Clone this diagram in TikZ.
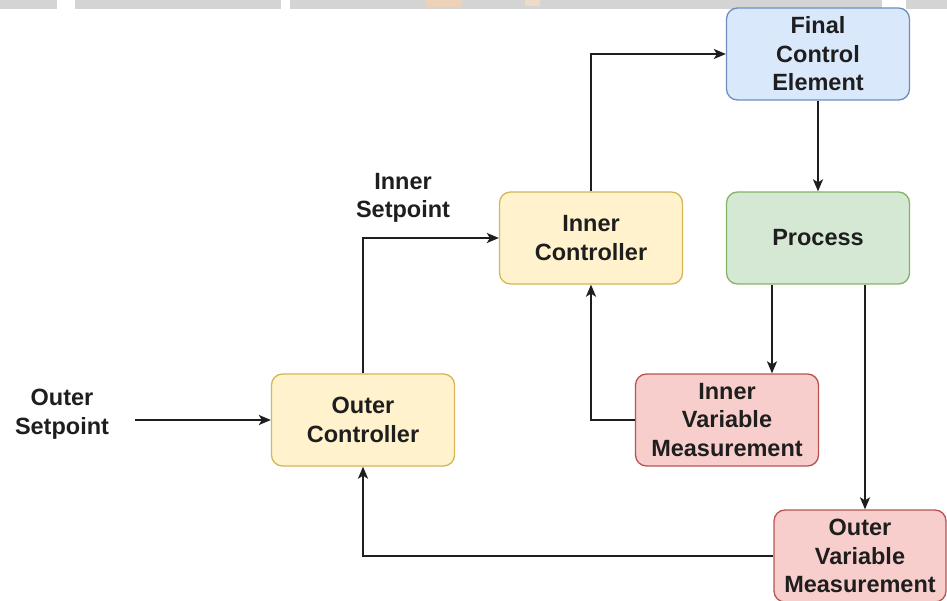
\documentclass[tikz,border=0pt]{standalone}
\usepackage{fontspec}
\setmainfont{Liberation Sans}
\usetikzlibrary{arrows.meta}

\definecolor{ink}{HTML}{1E1E1E}
\definecolor{yfill}{HTML}{FFF2CC}\definecolor{ydraw}{HTML}{D6B656}
\definecolor{bfill}{HTML}{DAE8FC}\definecolor{bdraw}{HTML}{6C8EBF}
\definecolor{gfill}{HTML}{D5E8D4}\definecolor{gdraw}{HTML}{82B366}
\definecolor{rfill}{HTML}{F8CECC}\definecolor{rdraw}{HTML}{B85450}
\definecolor{band}{HTML}{D4D4D4}

\tikzset{
  blockbox/.style={draw, line width=1.3pt, rounded corners=11pt,
    minimum width=183pt, minimum height=92pt, inner sep=0pt,
    align=center, text=ink,
    font=\fontsize{23.5}{28.5}\selectfont\bfseries},
  ctrl/.style={blockbox, fill=yfill, draw=ydraw},
  fce/.style={blockbox, fill=bfill, draw=bdraw},
  proc/.style={blockbox, fill=gfill, draw=gdraw},
  meas/.style={blockbox, fill=rfill, draw=rdraw},
  lbl/.style={align=center, text=ink, inner sep=0pt,
    font=\fontsize{23.5}{28.5}\selectfont\bfseries},
  flow/.style={draw=ink, line width=2pt,
    -{Stealth[length=12pt, width=10pt, inset=3pt]}}
}

\begin{document}
\begin{tikzpicture}[x=1pt, y=-1pt]
  \useasboundingbox (0,0) rectangle (947,601);

  % header strip along the top edge
  \fill[band] (0,0) rectangle (57,9);
  \fill[band] (75,0) rectangle (281,9);
  \fill[band] (290,0) rectangle (882,9);
  \fill[band] (906,0) rectangle (947,9);
  \fill[orange!35, opacity=0.6] (425,0) rectangle (462,7);
  \fill[orange!25, opacity=0.6] (525,0) rectangle (540,6);

  % blocks
  \node[fce]  (fce)   at (818,54)  {Final\\Control\\Element};
  \node[proc] (proc)  at (818,238) {Process};
  \node[ctrl] (inner) at (591,238) {Inner\\Controller};
  \node[ctrl] (outer) at (363,420) {Outer\\Controller};
  \node[meas] (ivm)   at (727,420) {Inner\\Variable\\Measurement};
  \node[meas, minimum width=172pt] (ovm) at (860,556) {Outer\\Variable\\Measurement};

  % free labels
  \node[lbl] (osp) at (62,414) {Outer\\Setpoint};
  \node[lbl] (isp) at (403,198) {Inner\\Setpoint};
  \coordinate (ospend) at (135,420);

  % forward path
  \draw[flow] (ospend) -- (outer.west);
  \draw[flow] (outer.north) |- (inner.west);
  \draw[flow] (inner.north) |- (fce.west);
  \draw[flow] (fce.south) -- (proc.north);

  % measurement branches
  \draw[flow] (proc.south -| 772,0) -- (ivm.north -| 772,0);
  \draw[flow] (proc.south -| 865,0) -- (ovm.north -| 865,0);

  % feedback paths
  \draw[flow] (ivm.west) -| (inner.south);
  \draw[flow] (ovm.west) -| (outer.south);
\end{tikzpicture}
\end{document}
